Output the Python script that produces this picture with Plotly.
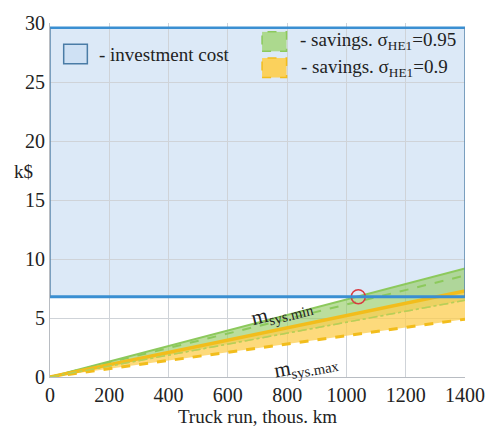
import plotly.graph_objects as go

# Truck run, thousand km
run_km = [0, 1400]

# Investment cost band (k$)
invest_cost = 6.8
invest_top = 29.6

# Savings, sigma_HE1 = 0.95 (green)
green_upper = [0, 9.2]
green_mid = [0, 8.6]
green_lower = [0, 6.5]

# Savings, sigma_HE1 = 0.9 (yellow)
yellow_upper = [0, 7.3]
yellow_lower = [0, 4.9]

# Break-even point
breakeven_run = [1040]
breakeven_cost = [invest_cost]

x_ticks = [0, 200, 400, 600, 800, 1000, 1200, 1400]
y_ticks = [0, 5, 10, 15, 20, 25, 30]

FONT = "Liberation Serif"
BLUE = "#3a8fd2"
GREEN_LINE = "#8cc95c"
GREEN_FILL = "rgba(150,205,105,0.65)"
YEL_LINE = "#f2bd1c"
YEL_FILL = "rgba(252,205,80,0.75)"

fig = go.Figure()

# green band
fig.add_trace(go.Scatter(x=run_km, y=green_lower, mode="lines",
                         line=dict(color=GREEN_LINE, width=1.5, dash="dashdot"),
                         showlegend=False, hoverinfo="skip"))
fig.add_trace(go.Scatter(x=run_km, y=green_upper, mode="lines", fill="tonexty",
                         fillcolor=GREEN_FILL,
                         line=dict(color=GREEN_LINE, width=2),
                         showlegend=False, hoverinfo="skip"))
fig.add_trace(go.Scatter(x=run_km, y=green_mid, mode="lines",
                         line=dict(color=GREEN_LINE, width=2, dash="dash"),
                         showlegend=False, hoverinfo="skip"))

# yellow band
fig.add_trace(go.Scatter(x=run_km, y=yellow_lower, mode="lines",
                         line=dict(color=YEL_LINE, width=3, dash="dash"),
                         showlegend=False, hoverinfo="skip"))
fig.add_trace(go.Scatter(x=run_km, y=yellow_upper, mode="lines", fill="tonexty",
                         fillcolor=YEL_FILL,
                         line=dict(color=YEL_LINE, width=3.5),
                         showlegend=False, hoverinfo="skip"))
fig.add_trace(go.Scatter(x=run_km, y=green_lower, mode="lines",
                         line=dict(color="#b6cf5a", width=1.5, dash="dashdot"),
                         showlegend=False, hoverinfo="skip"))

# break-even marker
fig.add_trace(go.Scatter(x=breakeven_run, y=breakeven_cost, mode="markers",
                         marker=dict(symbol="circle-open", size=14,
                                     color="#d83a40", line=dict(width=1.5)),
                         showlegend=False, hoverinfo="skip"))

# investment cost area
fig.add_shape(type="rect", xref="x", yref="y", x0=run_km[0], x1=run_km[-1],
              y0=invest_cost, y1=invest_top, layer="below",
              fillcolor="rgba(205,224,243,0.7)", line=dict(width=0))
fig.add_shape(type="line", xref="x", yref="y", x0=run_km[0], x1=run_km[-1],
              y0=invest_cost, y1=invest_cost,
              line=dict(color=BLUE, width=3))
fig.add_shape(type="line", xref="x", yref="y", x0=run_km[0], x1=run_km[-1],
              y0=invest_top, y1=invest_top, line=dict(color=BLUE, width=2.5))
for xv in (run_km[0], run_km[-1]):
    fig.add_shape(type="line", xref="x", yref="y", x0=xv, x1=xv,
                  y0=invest_cost, y1=invest_top,
                  line=dict(color="#5a86ad", width=1.5))

# legend boxes
fig.add_shape(type="rect", xref="paper", yref="paper", x0=0.033, x1=0.090,
              y0=0.885, y1=0.940, fillcolor="#cfe1f4",
              line=dict(color="#4a7ca6", width=1.5))
fig.add_shape(type="rect", xref="paper", yref="paper", x0=0.511, x1=0.570,
              y0=0.920, y1=0.975, fillcolor="#acd98e",
              line=dict(color=GREEN_LINE, width=1.5, dash="dash"))
fig.add_shape(type="rect", xref="paper", yref="paper", x0=0.511, x1=0.570,
              y0=0.846, y1=0.901, fillcolor="#fbd15c",
              line=dict(color=YEL_LINE, width=1.5, dash="dash"))

legend_font = dict(family=FONT, size=19, color="#222")
fig.add_annotation(xref="paper", yref="paper", x=0.114, y=0.912,
                   text="- investment cost", showarrow=False,
                   xanchor="left", yanchor="middle", font=legend_font)
fig.add_annotation(xref="paper", yref="paper", x=0.597, y=0.950,
                   text="- savings. σ<sub>HE1</sub>=0.95", showarrow=False,
                   xanchor="left", yanchor="middle", font=legend_font)
fig.add_annotation(xref="paper", yref="paper", x=0.599, y=0.874,
                   text="- savings. σ<sub>HE1</sub>=0.9", showarrow=False,
                   xanchor="left", yanchor="middle", font=legend_font)

# curve labels
fig.add_annotation(x=781, y=5.5, text="m<sub>sys.min</sub>", showarrow=False,
                   textangle=-14, font=dict(family=FONT, size=21, color="#222"))
fig.add_annotation(x=865, y=0.9, text="m<sub>sys.max</sub>", showarrow=False,
                   textangle=-10, font=dict(family=FONT, size=21, color="#222"))

# y-axis title, horizontal
fig.add_annotation(xref="paper", yref="paper", x=-0.065, y=0.58, text="k$",
                   showarrow=False, xanchor="center",
                   font=dict(family=FONT, size=19, color="#222"))

fig.update_layout(
    width=497, height=431,
    margin=dict(l=50, r=26, t=17, b=50),
    paper_bgcolor="white", plot_bgcolor="white",
    font=dict(family=FONT, size=20, color="#222"),
    xaxis=dict(range=[0, 1400], tickvals=x_ticks, showgrid=True,
               gridcolor="#cfd3d8", gridwidth=1, zeroline=False,
               showline=True, linecolor="#b8bcc2", ticks="", ticklen=0,
               title=dict(text="Truck run, thous. km", standoff=0,
                          font=dict(family=FONT, size=19))),
    yaxis=dict(range=[0, 30], tickvals=y_ticks, showgrid=True,
               gridcolor="#cfd3d8", gridwidth=1, zeroline=False,
               showline=True, linecolor="#b8bcc2", ticks="", ticklen=0),
)

fig.write_html("out.html")
